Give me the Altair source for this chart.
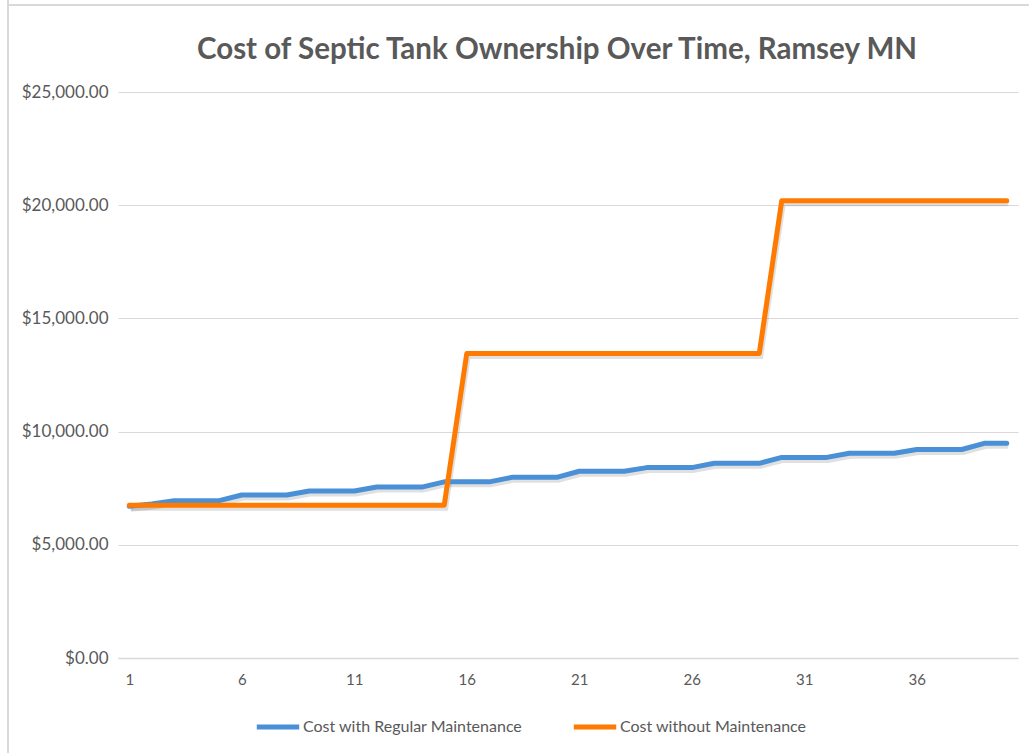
import altair as alt
import pandas as pd

title_text = "Cost of Septic Tank Ownership Over Time, Ramsey MN"
years = list(range(1, 41))
with_maintenance = [6700, 6800, 6950, 6950, 6950, 7200, 7200, 7200, 7380, 7380,
                    7380, 7550, 7550, 7550, 7780, 7780, 7780, 7980, 7980, 7980,
                    8250, 8250, 8250, 8410, 8410, 8410, 8600, 8600, 8600, 8860,
                    8860, 8860, 9040, 9040, 9040, 9210, 9210, 9210, 9480, 9480]
without_maintenance = [6750] * 15 + [13450] * 14 + [20200] * 11
series_names = ["Cost with Regular Maintenance", "Cost without Maintenance"]
series_colors = ["#4A90D6", "#FF7A00"]
x_ticks = [1, 6, 11, 16, 21, 26, 31, 36]
y_ticks = [0, 5000, 10000, 15000, 20000, 25000]

rows = []
for i, y in enumerate(years):
    rows.append({"year": y, "cost": with_maintenance[i], "series": series_names[0]})
for i, y in enumerate(years):
    rows.append({"year": y, "cost": without_maintenance[i], "series": series_names[1]})
df = pd.DataFrame(rows)

FONT = "Lato"
GRAY = "#595959"

x_enc = alt.X("year:Q", scale=alt.Scale(domain=[0.5, 40.5], nice=False, zero=False),
              axis=alt.Axis(values=x_ticks, title=None, grid=False, ticks=False,
                            domainColor="#d9d9d9", domainWidth=1.5,
                            labelFont=FONT, labelFontSize=15, labelColor=GRAY,
                            labelPadding=14))
y_enc = alt.Y("cost:Q", scale=alt.Scale(domain=[0, 25000], nice=False),
              axis=alt.Axis(values=y_ticks, format="$,.2f", title=None, domain=False,
                            ticks=False, gridColor="#d9d9d9", gridWidth=1.2,
                            labelFont=FONT, labelFontSize=17, labelColor=GRAY,
                            labelPadding=10))

shadow = alt.Chart(df).mark_line(strokeWidth=5, color="black", opacity=0.12,
                                 xOffset=1.5, yOffset=3).encode(
    x=x_enc, y=y_enc, detail="series:N", order="year:Q")

lines = alt.Chart(df).mark_line(strokeWidth=5, strokeCap="round", strokeJoin="round").encode(
    x=x_enc, y=y_enc,
    color=alt.Color("series:N",
                    scale=alt.Scale(domain=series_names, range=series_colors),
                    legend=alt.Legend(orient="none", legendX=136, legendY=611,
                                      direction="horizontal", title=None,
                                      symbolType="stroke", symbolStrokeWidth=5,
                                      symbolSize=1800, columnPadding=40,
                                      labelLimit=0,
                                      labelFont=FONT, labelFontSize=16,
                                      labelColor=GRAY, labelOffset=1)),
    order="year:Q",
)

single = pd.DataFrame({"label": [title_text]})
frame_left = alt.Chart(single).mark_rule(color="#d9d9d9", strokeWidth=2, clip=False).encode(
    x=alt.value(-110), y=alt.value(-92), y2=alt.value(661))
frame_top = alt.Chart(single).mark_rule(color="#d9d9d9", strokeWidth=2, clip=False).encode(
    x=alt.value(-110), x2=alt.value(911), y=alt.value(-87))
title_mark = alt.Chart(single).mark_text(font=FONT, fontSize=29.5, fontWeight="bold",
                                         color=GRAY, align="center", baseline="middle",
                                         clip=False).encode(
    text="label:N", x=alt.value(439), y=alt.value(-42))

chart = alt.layer(frame_left, frame_top, title_mark, shadow, lines).properties(
    width=900, height=566,
    autosize=alt.AutoSizeParams(type="none"),
    padding={"left": 118, "top": 92, "right": 11, "bottom": 95},
    background="white",
).configure_view(stroke=None)

chart.save("out.html", embed_options={"renderer": "svg", "actions": False})
